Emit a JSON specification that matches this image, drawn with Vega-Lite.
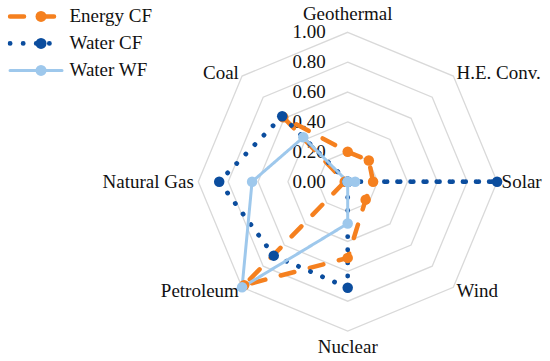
{
  "$schema": "https://vega.github.io/schema/vega-lite/v6.json",
  "width": 358.56,
  "height": 358.56,
  "autosize": {"type": "none"},
  "padding": {"left": 168.42, "top": 2.42, "right": 23.02, "bottom": 0},
  "background": "white",
  "config": {"view": {"stroke": null}, "font": "Liberation Serif"},
  "datasets": {
    "series": [
      {"series": "Energy CF", "category": "Geothermal", "value": 0.20},
      {"series": "Energy CF", "category": "H.E. Conv.", "value": 0.20},
      {"series": "Energy CF", "category": "Solar", "value": 0.17},
      {"series": "Energy CF", "category": "Wind", "value": 0.17},
      {"series": "Energy CF", "category": "Nuclear", "value": 0.51},
      {"series": "Energy CF", "category": "Petroleum", "value": 0.98},
      {"series": "Energy CF", "category": "Natural Gas", "value": 0.02},
      {"series": "Energy CF", "category": "Coal", "value": 0.61},
      {"series": "Water CF", "category": "Geothermal", "value": 0.0},
      {"series": "Water CF", "category": "H.E. Conv.", "value": 0.0},
      {"series": "Water CF", "category": "Solar", "value": 1.0},
      {"series": "Water CF", "category": "Wind", "value": 0.0},
      {"series": "Water CF", "category": "Nuclear", "value": 0.71},
      {"series": "Water CF", "category": "Petroleum", "value": 0.70},
      {"series": "Water CF", "category": "Natural Gas", "value": 0.86},
      {"series": "Water CF", "category": "Coal", "value": 0.62},
      {"series": "Water WF", "category": "Geothermal", "value": 0.0},
      {"series": "Water WF", "category": "H.E. Conv.", "value": 0.0},
      {"series": "Water WF", "category": "Solar", "value": 0.05},
      {"series": "Water WF", "category": "Wind", "value": 0.0},
      {"series": "Water WF", "category": "Nuclear", "value": 0.28},
      {"series": "Water WF", "category": "Petroleum", "value": 1.0},
      {"series": "Water WF", "category": "Natural Gas", "value": 0.64},
      {"series": "Water WF", "category": "Coal", "value": 0.42}
    ],
    "cats": [
      {"category": "Geothermal"},
      {"category": "H.E. Conv."},
      {"category": "Solar"},
      {"category": "Wind"},
      {"category": "Nuclear"},
      {"category": "Petroleum"},
      {"category": "Natural Gas"},
      {"category": "Coal"}
    ],
    "ticks": [
      {"level": 0.0}, {"level": 0.2}, {"level": 0.4}, {"level": 0.6}, {"level": 0.8}, {"level": 1.0}
    ],
    "rings": [
      {"level": 0.2, "k": [0, 1, 2, 3, 4, 5, 6, 7]},
      {"level": 0.4, "k": [0, 1, 2, 3, 4, 5, 6, 7]},
      {"level": 0.6, "k": [0, 1, 2, 3, 4, 5, 6, 7]},
      {"level": 0.8, "k": [0, 1, 2, 3, 4, 5, 6, 7]},
      {"level": 1.0, "k": [0, 1, 2, 3, 4, 5, 6, 7]}
    ]
  },
  "layer": [
    {
      "data": {"name": "rings"},
      "transform": [
        {"flatten": ["k"]},
        {"calculate": "datum.level * sin(datum.k * PI / 4)", "as": "px"},
        {"calculate": "datum.level * cos(datum.k * PI / 4)", "as": "py"}
      ],
      "mark": {"type": "line", "interpolate": "linear-closed", "stroke": "#D9D9D9", "strokeWidth": 1.3},
      "encoding": {
        "x": {"field": "px", "type": "quantitative", "scale": {"domain": [-1.2, 1.2], "nice": false, "zero": false}, "axis": null},
        "y": {"field": "py", "type": "quantitative", "scale": {"domain": [-1.2, 1.2], "nice": false, "zero": false}, "axis": null},
        "detail": {"field": "level", "type": "nominal"},
        "order": {"field": "k", "type": "quantitative"}
      }
    },
    {
      "data": {"name": "ticks"},
      "transform": [
        {"calculate": "0", "as": "px"},
        {"calculate": "datum.level", "as": "py"}
      ],
      "mark": {"type": "text", "align": "right", "baseline": "middle", "dx": -22, "fontSize": 19, "font": "Liberation Serif", "color": "#111111"},
      "encoding": {
        "x": {"field": "px", "type": "quantitative"},
        "y": {"field": "py", "type": "quantitative"},
        "text": {"field": "level", "type": "quantitative", "format": ".2f"}
      }
    },
    {
      "data": {"name": "cats"},
      "transform": [
        {"calculate": "indexof(['Geothermal','H.E. Conv.','Solar','Wind','Nuclear','Petroleum','Natural Gas','Coal'], datum.category)", "as": "idx"},
        {"calculate": "datum.idx == 0 ? 1.125 : (datum.idx == 4 ? 1.105 : 1.03)", "as": "rr"},
        {"calculate": "datum.rr * sin(datum.idx * PI / 4)", "as": "px"},
        {"calculate": "datum.rr * cos(datum.idx * PI / 4)", "as": "py"}
      ],
      "layer": [
        {
          "transform": [{"filter": "datum.idx % 4 == 0"}],
          "mark": {"type": "text", "align": "center", "baseline": "middle", "fontSize": 19, "font": "Liberation Serif", "color": "#111111"},
          "encoding": {
            "x": {"field": "px", "type": "quantitative"},
            "y": {"field": "py", "type": "quantitative"},
            "text": {"field": "category"}
          }
        },
        {
          "transform": [{"filter": "datum.idx > 0 && datum.idx < 4"}],
          "mark": {"type": "text", "align": "left", "baseline": "middle", "fontSize": 19, "font": "Liberation Serif", "color": "#111111"},
          "encoding": {
            "x": {"field": "px", "type": "quantitative"},
            "y": {"field": "py", "type": "quantitative"},
            "text": {"field": "category"}
          }
        },
        {
          "transform": [{"filter": "datum.idx > 4"}],
          "mark": {"type": "text", "align": "right", "baseline": "middle", "fontSize": 19, "font": "Liberation Serif", "color": "#111111"},
          "encoding": {
            "x": {"field": "px", "type": "quantitative"},
            "y": {"field": "py", "type": "quantitative"},
            "text": {"field": "category"}
          }
        }
      ]
    },
    {
      "data": {"name": "series"},
      "transform": [
        {"calculate": "indexof(['Geothermal','H.E. Conv.','Solar','Wind','Nuclear','Petroleum','Natural Gas','Coal'], datum.category)", "as": "idx"},
        {"calculate": "datum.value * sin(datum.idx * PI / 4)", "as": "px"},
        {"calculate": "datum.value * cos(datum.idx * PI / 4)", "as": "py"}
      ],
      "layer": [
        {
          "mark": {"type": "line", "interpolate": "linear-closed", "strokeCap": "round", "strokeJoin": "round"},
          "encoding": {
            "x": {"field": "px", "type": "quantitative"},
            "y": {"field": "py", "type": "quantitative"},
            "order": {"field": "idx", "type": "quantitative"},
            "stroke": {
              "field": "series", "type": "nominal",
              "scale": {"domain": ["Energy CF", "Water CF", "Water WF"], "range": ["#F5801F", "#0B4D9E", "#9EC8EC"]},
              "legend": {
                "orient": "none", "legendX": -160.9, "legendY": 4, "title": null,
                "symbolType": "stroke", "symbolSize": 2704, "clipHeight": 20,
                "labelFontSize": 19, "labelFont": "Liberation Serif", "labelColor": "#111111",
                "rowPadding": 7, "labelOffset": 5,
                "encode": {"symbols": {"update": {"strokeCap": {"value": "round"}}}}
              }
            },
            "strokeDash": {
              "field": "series", "type": "nominal",
              "scale": {"domain": ["Energy CF", "Water CF", "Water WF"], "range": [[14, 16], [0.1, 13], [1, 0]]}
            },
            "strokeWidth": {
              "field": "series", "type": "nominal",
              "scale": {"type": "ordinal", "domain": ["Energy CF", "Water CF", "Water WF"], "range": [4.5, 4.8, 3]}
            }
          }
        },
        {
          "mark": {"type": "circle", "size": 110, "opacity": 1, "strokeWidth": 0},
          "encoding": {
            "x": {"field": "px", "type": "quantitative"},
            "y": {"field": "py", "type": "quantitative"},
            "fill": {
              "field": "series", "type": "nominal",
              "scale": {"range": ["#F5801F", "#0B4D9E", "#9EC8EC"]},
              "legend": {
                "orient": "none", "legendX": -136.9, "legendY": 4, "title": null,
                "symbolType": "circle", "symbolSize": 120, "symbolStrokeWidth": 0, "symbolOpacity": 1,
                "clipHeight": 20, "labelFontSize": 19, "labelExpr": "''",
                "rowPadding": 7, "labelOffset": 5
              }
            }
          }
        }
      ]
    }
  ]
}
